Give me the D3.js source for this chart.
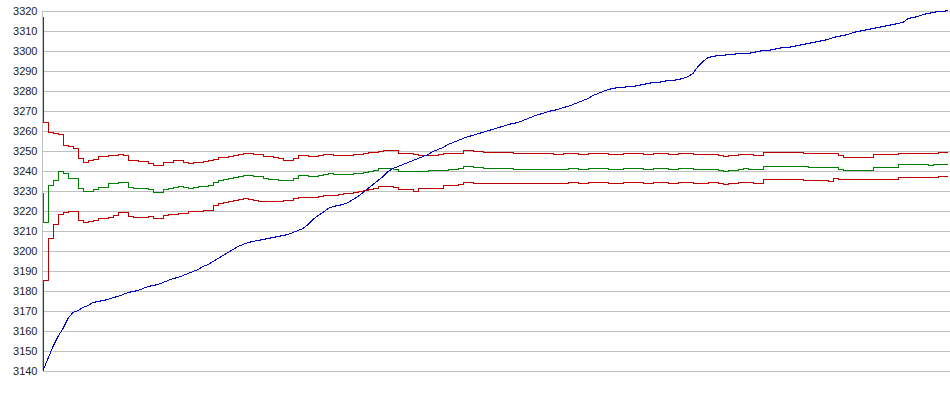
<!DOCTYPE html>
<html>
<head>
<meta charset="utf-8">
<script src="https://cdn.jsdelivr.net/npm/d3@7"></script>
<style>
  body { margin: 0; background: #fff; }
  svg { display: block; }
  .tick text { font-family: Arial, "Liberation Sans", sans-serif; font-size: 11px; fill: #222; }
</style>
</head>
<body>
<div id="chart"></div>
<script>
// y tick labels
let yTicks = [3140, 3150, 3160, 3170, 3180, 3190, 3200, 3210, 3220, 3230,
              3240, 3250, 3260, 3270, 3280, 3290, 3300, 3310, 3320]

// running value (blue)
let blueValues = [
  3140, 3146, 3152, 3157, 3161, 3166, 3169, 3170, 3171.5, 3172.5,
  3174, 3174.5, 3175, 3175.5, 3176.5, 3177, 3178, 3179, 3179.5, 3180,
  3181, 3182, 3182.5, 3183, 3184, 3185, 3186, 3186.5, 3187.5, 3188.5,
  3189.5, 3190.5, 3192, 3193, 3194.5, 3196, 3197.5, 3199, 3200.5, 3202,
  3203, 3204, 3204.5, 3205, 3205.5, 3206, 3206.5, 3207, 3207.5, 3208,
  3209, 3210, 3211, 3213, 3215.5, 3217.5, 3219, 3221, 3222, 3222.5,
  3223, 3224, 3225.5, 3227, 3229, 3231, 3233, 3235, 3237, 3239.5,
  3241, 3242, 3243, 3244, 3245, 3246, 3247, 3248, 3249.5, 3250.5,
  3251.5, 3253, 3254, 3255, 3256, 3257, 3257.5, 3258.5, 3259, 3260,
  3260.5, 3261.5, 3262, 3263, 3263.5, 3264, 3265, 3266, 3267, 3268,
  3268.5, 3269.5, 3270, 3270.5, 3271.5, 3272, 3273, 3274, 3275, 3276,
  3277.5, 3278.5, 3279.5, 3280.5, 3281, 3281.5, 3281.5, 3282, 3282, 3282.5,
  3283, 3283.5, 3284, 3284, 3284.5, 3285, 3285, 3285.5, 3286, 3287,
  3288.5, 3292, 3294.5, 3296.5, 3297, 3297.5, 3297.5, 3298, 3298, 3298.5,
  3298.5, 3298.5, 3299, 3299.5, 3300, 3300, 3300.5, 3301, 3301.5, 3301.5,
  3302, 3302.5, 3303, 3303.5, 3304, 3304.5, 3305, 3305.5, 3306.5, 3307,
  3307.5, 3308, 3309, 3309.5, 3310, 3310.5, 3311, 3311.5, 3312, 3312.5,
  3313, 3313.5, 3314, 3316, 3316.5, 3317, 3318, 3318.5, 3319, 3319.5,
  3319.5, 3320
]

// upper bound (red)
let upperValues = [
  3317, 3264, 3259, 3258.5, 3258, 3252.5, 3252, 3251, 3246, 3244,
  3245, 3245.5, 3247, 3247, 3247.5, 3247.5, 3248, 3247.5, 3245, 3245,
  3244.5, 3244.5, 3243.5, 3242.5, 3242.5, 3243.8, 3244, 3245, 3245, 3244,
  3243.7, 3244, 3244.2, 3244.5, 3245, 3245.3, 3246.3, 3246.5, 3247, 3247.5,
  3248, 3248.3, 3248.5, 3248, 3247.8, 3247, 3247, 3246.7, 3246, 3245,
  3245, 3246, 3247.5, 3247.5, 3247.2, 3247, 3247.5, 3248, 3248, 3247.5,
  3247.5, 3247.3, 3247.5, 3248, 3248, 3248.5, 3248.8, 3248.8, 3249.5, 3250,
  3250, 3250, 3248.3, 3248.3, 3248.3, 3248, 3247.5, 3247.5, 3247.5, 3247.5,
  3248, 3248.3, 3248.3, 3248.3, 3248.5, 3250, 3250, 3249.5, 3249.5, 3249,
  3248.8, 3248.8, 3248.8, 3248.8, 3248.8, 3248.3, 3248.3, 3248.3, 3248.3, 3248.3,
  3248.3, 3248.5, 3248.5, 3248, 3248, 3248.3, 3248.5, 3248.5, 3248, 3248,
  3248.3, 3248.5, 3248.5, 3248.3, 3248, 3248, 3248, 3248.5, 3248.5, 3248.3,
  3248.3, 3248, 3248, 3248.5, 3248.5, 3248.3, 3248, 3248, 3248.3, 3248.3,
  3248.3, 3248, 3247.8, 3247.8, 3248, 3248, 3247.5, 3247, 3247.5, 3247.5,
  3248, 3248, 3247.8, 3247.5, 3247.5, 3248.8, 3248.8, 3248.8, 3249, 3248.8,
  3248.8, 3248.8, 3248.8, 3248.5, 3248.3, 3248.3, 3248.3, 3248.3, 3248.3, 3248.3,
  3247.5, 3246.7, 3246.7, 3246.7, 3246.7, 3246.7, 3246.7, 3248, 3248, 3248,
  3248, 3248, 3248.7, 3248.7, 3248.7, 3248.7, 3248.7, 3248.7, 3248.5, 3248.5,
  3249, 3249
]

// estimate (green)
let meanValues = [
  3229, 3214, 3232.5, 3235, 3239.5, 3238.5, 3236, 3236, 3231, 3229.5,
  3229.5, 3230.5, 3231.5, 3231.5, 3233.5, 3233.5, 3234, 3234, 3231.5, 3231,
  3231, 3231, 3230.5, 3229, 3229, 3230.5, 3231, 3231.5, 3232, 3231.5,
  3231, 3231.5, 3232, 3232, 3232.5, 3234, 3235, 3235.5, 3236, 3236.5,
  3237, 3237.5, 3237.5, 3237, 3237, 3236, 3235.5, 3235.3, 3235, 3235,
  3235, 3236, 3237.5, 3237.5, 3237, 3237, 3237.5, 3238, 3238.3, 3238,
  3238, 3237.8, 3238, 3238.5, 3238.5, 3239, 3239.5, 3240, 3241, 3241,
  3241, 3240.5, 3239.5, 3239.5, 3239.5, 3239.5, 3239.5, 3239.5, 3240, 3240,
  3240, 3240, 3240.3, 3240.3, 3241, 3242.2, 3242, 3241.7, 3241.5, 3241,
  3240.8, 3240.8, 3240.8, 3240.8, 3240.8, 3240.5, 3240.3, 3240.3, 3240.3, 3240.3,
  3240.3, 3240.5, 3240.5, 3240.3, 3240.3, 3240.5, 3240.8, 3240.8, 3240.5, 3240.5,
  3240.8, 3241, 3241, 3240.8, 3240.5, 3240.5, 3240.5, 3241, 3241, 3240.8,
  3240.8, 3240.5, 3240.5, 3241, 3241, 3240.8, 3240.5, 3240.5, 3240.8, 3240.8,
  3240.8, 3240.5, 3240.3, 3240.3, 3240.5, 3240.5, 3240, 3239.5, 3240, 3240,
  3240.5, 3240.8, 3240.5, 3240.3, 3240.3, 3242, 3242, 3242, 3242.2, 3242,
  3242, 3242, 3242, 3241.8, 3241.3, 3241.3, 3241.3, 3241.3, 3241.3, 3241.3,
  3240.7, 3240, 3240, 3240, 3240, 3240, 3240, 3241.3, 3241.3, 3241.3,
  3241.3, 3241.3, 3242.8, 3242.8, 3242.8, 3242.8, 3242.8, 3242.8, 3242.5, 3242.8,
  3243, 3243
]

// lower bound (red)
let lowerValues = [
  3140, 3185, 3206, 3213, 3218, 3219, 3219.5, 3219.7, 3215, 3214,
  3214.5, 3215, 3215.8, 3216, 3216.7, 3217.5, 3219, 3219, 3217, 3216.5,
  3216.3, 3216.3, 3217, 3215.8, 3215.8, 3217.5, 3217.8, 3218, 3218.3, 3218.5,
  3219.7, 3219.7, 3219.7, 3219.8, 3220, 3222.5, 3223.5, 3224, 3224.5, 3225,
  3225.5, 3225.8, 3225.5, 3225, 3224.7, 3224.7, 3224.5, 3224.5, 3224.7, 3225,
  3225, 3226, 3226.7, 3226.5, 3226.3, 3226.3, 3227, 3227.5, 3227.5, 3227.5,
  3228, 3228.3, 3228.5, 3229, 3229.5, 3230, 3230.5, 3230.8, 3232, 3232,
  3232, 3231.5, 3230.3, 3230.3, 3230.3, 3229.5, 3230.8, 3230.8, 3230.8, 3230.8,
  3231, 3232.5, 3232.5, 3232.5, 3233, 3234.2, 3234, 3233.7, 3233.5, 3233.3,
  3233.3, 3233.3, 3233.3, 3233.3, 3233.3, 3233.3, 3233.3, 3233.5, 3233.3, 3233.3,
  3233.3, 3233.5, 3233.5, 3233.3, 3233.3, 3233.5, 3233.8, 3233.8, 3233.5, 3233.5,
  3233.8, 3234, 3234, 3233.8, 3233.5, 3233.5, 3233.5, 3234, 3234, 3233.8,
  3233.8, 3233.5, 3233.5, 3234, 3234, 3233.8, 3233.5, 3233.5, 3233.8, 3233.8,
  3233.8, 3233.5, 3233.5, 3233.5, 3233.8, 3233.8, 3233.3, 3233, 3233.5, 3233.5,
  3234, 3234.2, 3234, 3233.7, 3233.7, 3235.3, 3235.3, 3235.3, 3235.5, 3235.3,
  3235.3, 3235.3, 3235.3, 3235, 3235, 3235, 3235, 3235, 3234.5, 3236.2,
  3235.5, 3235.3, 3235.3, 3235.3, 3235.3, 3235.3, 3235.3, 3235.3, 3235.3, 3235.3,
  3235.3, 3235.3, 3236.7, 3236.7, 3236.7, 3236.7, 3236.7, 3236.7, 3236.5, 3236.7,
  3237, 3237
]

let width = 950,
    height = 395

let svg = d3.select("#chart")
    .append("svg")
    .attr("width", width)
    .attr("height", height)

let x = d3.scaleLinear()
    .domain([0, blueValues.length - 1])
    .range([43, 948])

let y = d3.scaleLinear()
    .domain([3140, 3320])
    .range([370.5, 10.5])

// gridlines + labels
let yAxis = svg.append("g")
    .attr("transform", "translate(42.5,0)")
    .call(d3.axisLeft(y).tickValues(yTicks).tickSize(-908).tickPadding(5).tickFormat(d3.format("d")))
yAxis.select(".domain").remove()
yAxis.selectAll(".tick line")
    .attr("stroke", "#c0c0c0")
    .attr("shape-rendering", "crispEdges")

// left axis line
svg.append("line")
    .attr("x1", 42.5).attr("x2", 42.5)
    .attr("y1", y(3320)).attr("y2", y(3140))
    .attr("stroke", "#c0c0c0")

// the bounds and estimate move in steps, the blue total climbs
let stepLine = d3.line()
    .x((d, i) => x(i))
    .y(d => y(d))
    .curve(d3.curveStepBefore)

let plainLine = d3.line()
    .x((d, i) => x(i))
    .y(d => y(d))

let series = [
    { values: upperValues, color: "#c00000", gen: stepLine },
    { values: lowerValues, color: "#c00000", gen: stepLine },
    { values: meanValues, color: "#008000", gen: stepLine },
    { values: blueValues, color: "#0000c0", gen: plainLine }
]

series.forEach(s => {
    svg.append("path")
        .datum(s.values)
        .attr("d", s.gen)
        .attr("fill", "none")
        .attr("stroke", s.color)
        .attr("stroke-width", 1)
        .attr("shape-rendering", "crispEdges")
})
</script>
</body>
</html>
